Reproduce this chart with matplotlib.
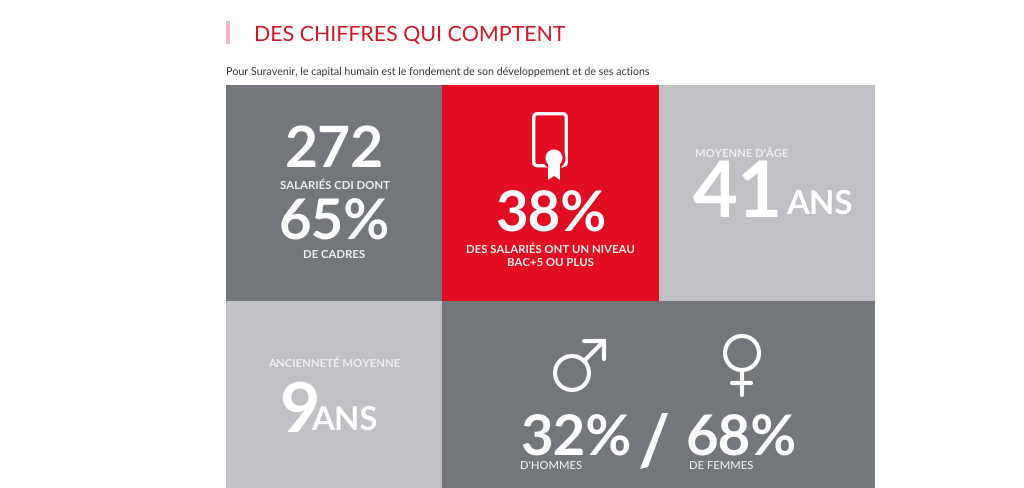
import matplotlib
matplotlib.use("Agg")
from matplotlib import pyplot as plt
from matplotlib.patches import Circle, FancyBboxPatch, Polygon, Rectangle

GREY = "#73767a"
LIGHT = "#c1c0c5"
RED = "#e30d22"
TITLE_RED = "#d2172c"
WHITE = "#ffffff"
SOFT = "#eeeeef"

title = "DES CHIFFRES QUI COMPTENT"
subtitle = "Pour Suravenir, le capital humain est le fondement de son développement et de ses actions"

# x, y, w, h, colour
tiles = [
    (226, 85, 216, 216, GREY),
    (442, 85, 217, 216, RED),
    (659, 85, 216, 216, LIGHT),
    (226, 301, 216, 187, LIGHT),
    (442, 301, 433, 187, GREY),
]

# text, x, y (baseline), size, weight, ha, colour
labels = [
    ("272", 334, 167, 41, "bold", "center", WHITE),
    ("SALARIÉS CDI DONT", 334.5, 189, 8.2, "bold", "center", SOFT),
    ("65%", 334, 239, 40.5, "bold", "center", WHITE),
    ("DE CADRES", 334.5, 258, 8.2, "bold", "center", SOFT),
    ("38%", 550.5, 232, 40.5, "bold", "center", WHITE),
    ("DES SALARIÉS ONT UN NIVEAU", 550, 253, 8.2, "bold", "center", SOFT),
    ("BAC+5 OU PLUS", 550, 266, 8.2, "bold", "center", SOFT),
    ("MOYENNE D'ÂGE", 695, 157, 8.1, "bold", "left", SOFT),
    ("41", 693, 217, 56, "bold", "left", WHITE),
    ("ANS", 786, 214, 23.8, "bold", "left", WHITE),
    ("ANCIENNETÉ MOYENNE", 334, 367, 8.2, "bold", "center", SOFT),
    ("9", 279, 432, 50, "bold", "left", WHITE),
    ("ANS", 311, 430, 23.8, "bold", "left", WHITE),
    ("32%", 520, 455, 40.5, "bold", "left", WHITE),
    ("68%", 686, 455, 40.5, "bold", "left", WHITE),
    ("D'HOMMES", 520, 470, 8.1, "medium", "left", SOFT),
    ("DE FEMMES", 689, 470, 8.1, "medium", "left", SOFT),
]

plt.rcParams["font.family"] = ["Lato", "DejaVu Sans"]
plt.rcParams["text.hinting"] = "none"

fig = plt.figure(figsize=(10.24, 4.88), dpi=100)
ax = fig.add_axes([0, 0, 1, 1])
ax.set_xlim(0, 1024)
ax.set_ylim(488, 0)
ax.axis("off")

# heading
ax.add_patch(Rectangle((226, 21), 3.5, 23, color="#f2b8bf", lw=0))
ax.text(254, 41, title, color=TITLE_RED, fontsize=15.4, va="baseline")
ax.text(226, 75, subtitle, color="#333a3d", fontsize=7.62, va="baseline")

for x, y, w, h, c in tiles:
    ax.add_patch(Rectangle((x, y), w, h, color=c, lw=0))

for s, x, y, size, weight, ha, c in labels:
    ax.text(x, y, s, color=c, fontsize=size, fontweight=weight, ha=ha, va="baseline")

# slash between the percentages
ax.add_patch(Polygon([(662, 413), (668, 413), (648, 467), (640, 469)], color=WHITE, lw=0))

# diploma icon
ax.add_patch(FancyBboxPatch((533.7, 113.7), 32.6, 52, boxstyle="round,pad=0,rounding_size=4",
                            fc="none", ec=WHITE, lw=2.4))
ax.add_patch(Circle((554, 158), 11.5, color=RED, lw=0))
ax.add_patch(Polygon([(548, 163), (560, 163), (560, 180), (554, 176), (548, 180)], color=WHITE, lw=0))
ax.add_patch(Circle((554, 158), 8.5, color=WHITE, lw=0))

# male symbol
ax.add_patch(Circle((572, 373), 17, fc="none", ec=WHITE, lw=3))
ax.plot([584, 604], [361, 341], color=WHITE, lw=3, solid_capstyle="round")
ax.plot([584, 604, 604], [341, 341, 359], color=WHITE, lw=3,
        solid_capstyle="round", solid_joinstyle="miter")

# female symbol
ax.add_patch(Circle((742, 353), 17, fc="none", ec=WHITE, lw=3))
ax.plot([742, 742], [371, 395], color=WHITE, lw=3, solid_capstyle="round")
ax.plot([732, 751], [383, 383], color=WHITE, lw=3, solid_capstyle="round")

fig.savefig("out.png", dpi=100)
